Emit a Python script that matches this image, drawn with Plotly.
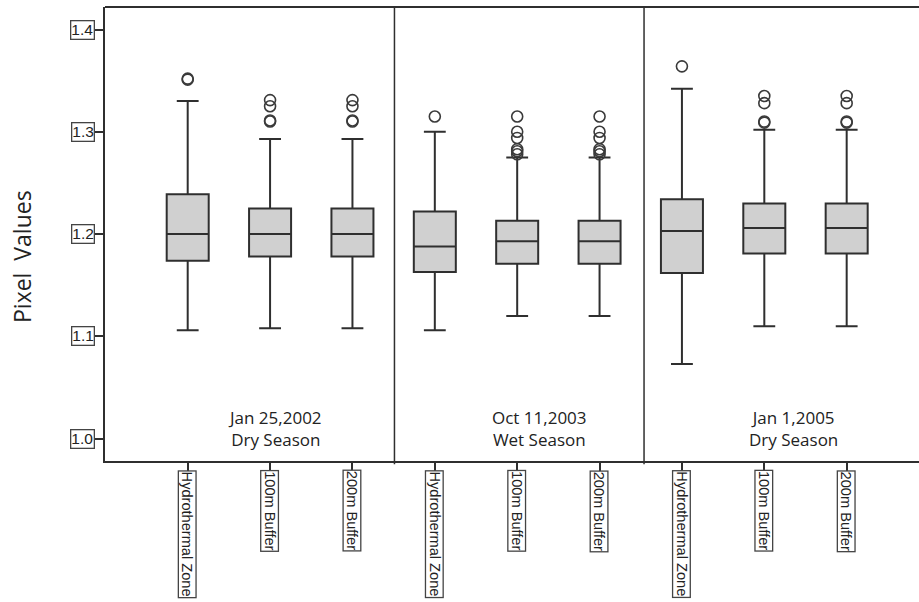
import plotly.graph_objects as go

# Categories (three dates x three zones)
zones = ["Hydrothermal Zone", "100m Buffer", "200m Buffer"]
dates = ["Jan 25,2002", "Oct 11,2003", "Jan 1,2005"]
seasons = ["Dry Season", "Wet Season", "Dry Season"]

# Box statistics, one entry per box (left to right)
q1 =      [1.174, 1.178, 1.178, 1.163, 1.171, 1.171, 1.162, 1.181, 1.181]
median =  [1.200, 1.200, 1.200, 1.188, 1.193, 1.193, 1.203, 1.206, 1.206]
q3 =      [1.239, 1.225, 1.225, 1.222, 1.213, 1.213, 1.234, 1.230, 1.230]
lower =   [1.106, 1.108, 1.108, 1.106, 1.120, 1.120, 1.073, 1.110, 1.110]
upper =   [1.330, 1.293, 1.293, 1.300, 1.275, 1.275, 1.342, 1.302, 1.302]

# Outliers for each box
outliers = [
    [1.351, 1.352],
    [1.331, 1.325, 1.310, 1.311],
    [1.331, 1.325, 1.310, 1.311],
    [1.315],
    [1.315, 1.300, 1.294, 1.283, 1.281, 1.278],
    [1.315, 1.300, 1.294, 1.283, 1.281, 1.278],
    [1.364],
    [1.335, 1.328, 1.310, 1.309],
    [1.335, 1.328, 1.310, 1.309],
]

y_ticks = [1.0, 1.1, 1.2, 1.3, 1.4]

positions = list(range(len(q1)))
labels = [z for _ in dates for z in zones]

DARK = "#2f2f2f"
L, R, T, B = 105, 0, 7, 141
W, H = 919, 602
PW, PH = W - L - R, H - T - B

fig = go.Figure()

fig.add_trace(go.Box(
    x=positions, q1=q1, median=median, q3=q3,
    lowerfence=lower, upperfence=upper,
    boxpoints=False, width=0.51, whiskerwidth=0.52,
    fillcolor="#d0d0d0", line=dict(color=DARK, width=2),
    showlegend=False, hoverinfo="skip",
))

ox, oy = [], []
for i, vals in enumerate(outliers):
    for v in vals:
        ox.append(i)
        oy.append(v)
fig.add_trace(go.Scatter(
    x=ox, y=oy, mode="markers",
    marker=dict(symbol="circle-open", size=11, color="#3a3a3a", line=dict(width=1.6)),
    showlegend=False, hoverinfo="skip",
))

# frame: left and bottom via axis lines, top via a shape
fig.add_shape(type="line", xref="paper", yref="paper", x0=0, x1=1, y0=1, y1=1,
              line=dict(color=DARK, width=2))
# group dividers
for xd in [2.51, 5.54]:
    fig.add_shape(type="line", xref="x", yref="paper", x0=xd, x1=xd, y0=-0.007, y1=1,
                  line=dict(color=DARK, width=1.5))

annotations = []
# boxed y tick labels
for v in y_ticks:
    annotations.append(dict(
        x=0, xref="paper", y=v, yref="y", xanchor="right", yanchor="middle",
        xshift=-10, text=f"{v:.1f}", showarrow=False,
        font=dict(family="Liberation Sans", size=15.5, color="#222"),
        bordercolor="#444", borderwidth=1.3, borderpad=0, bgcolor="white",
    ))
# boxed, rotated x tick labels
for p, lab in zip(positions, labels):
    annotations.append(dict(
        x=p, xref="x", y=0, yref="paper", xanchor="center", yanchor="top",
        yshift=-9, text=lab, textangle=90, showarrow=False,
        font=dict(family="Liberation Sans", size=14.6, color="#222"),
        bordercolor="#444", borderwidth=1.3, borderpad=0, bgcolor="white",
    ))
# date / season labels
for xc, d, s in zip([1.06, 4.265, 7.35], dates, seasons):
    annotations.append(dict(
        x=xc, xref="x", y=1.0, yref="y", yshift=10, xanchor="center", yanchor="middle",
        text=f"{d}<br>{s}", showarrow=False,
        font=dict(family="Open Sans", size=17, color="#222"),
    ))
# y axis title
annotations.append(dict(
    x=(22 - L) / PW, xref="paper", y=(H - B - 257) / PH, yref="paper",
    xanchor="center", yanchor="middle",
    text="Pixel  Values", textangle=-90, showarrow=False,
    font=dict(family="Open Sans", size=23, color="#222"),
))

fig.update_layout(
    width=W, height=H,
    margin=dict(l=L, r=R, t=T, b=B),
    paper_bgcolor="white", plot_bgcolor="white",
    annotations=annotations,
)

fig.update_xaxes(
    range=[-1.004, 8.878], tickvals=positions, ticks="outside", ticklen=10,
    tickwidth=1.5, tickcolor=DARK, showticklabels=False, showgrid=False,
    zeroline=False, showline=True, linecolor=DARK, linewidth=2,
)
fig.update_yaxes(
    range=[0.9782, 1.422], tickvals=y_ticks, ticks="outside", ticklen=10,
    tickwidth=1.5, tickcolor=DARK, showticklabels=False, showgrid=False,
    zeroline=False, showline=True, linecolor=DARK, linewidth=2,
)

fig.write_html("out.html")
